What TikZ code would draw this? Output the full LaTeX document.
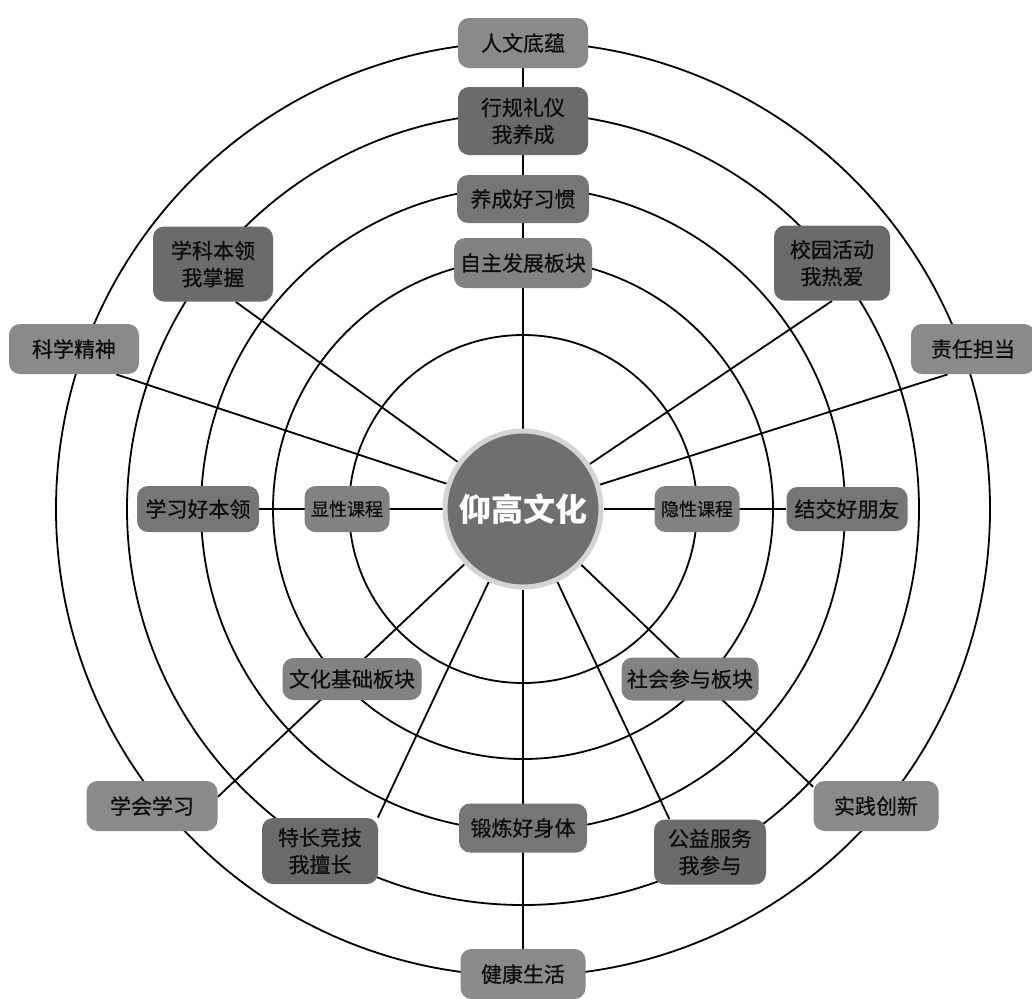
\documentclass[tikz,border=0pt]{standalone}
\usepackage{fontspec}
\setmainfont{Noto Sans CJK SC}
\newfontfamily\tagfont{Noto Sans CJK SC}[FakeBold=0.6]
\usetikzlibrary{backgrounds}
\newcommand{\figunit}{0.5pt}
\definecolor{boxlight}{HTML}{8A8A8A}
\definecolor{boxdark}{HTML}{6B6B6B}
\definecolor{boxmid}{HTML}{767676}
\definecolor{boxblock}{HTML}{828282}
\definecolor{corefill}{HTML}{6F6F6F}
\definecolor{corerim}{HTML}{D4D4D4}
\tikzset{
	tag/.style={rounded corners=5.5pt, inner sep=0pt, align=center, text=black!95,
		font=\tagfont\fontsize{10.5}{13.5}\selectfont},
	outer tag/.style={tag, fill=boxlight},
	dark tag/.style={tag, fill=boxdark},
	mid tag/.style={tag, fill=boxmid},
	block tag/.style={tag, fill=boxblock},
	course tag/.style={tag, fill=boxblock, font=\tagfont\fontsize{9}{11}\selectfont},
	ring/.style={line width=0.9pt},
	spoke/.style={line width=0.9pt}
}

\begin{document}
\begin{tikzpicture}[x=\figunit,y=-\figunit]
	\useasboundingbox (0,0) rectangle (1032,998);

	\node [circle, fill=corefill, draw=corerim, line width=2.5pt, minimum size=78pt,
		text=white, font=\fontsize{16}{16}\selectfont\bfseries] (O) at (523,509) {仰高文化};

	% top column
	\node [outer tag, minimum width=65pt, minimum height=25pt] (hum) at (523,43) {人文底蕴};
	\node [dark tag, minimum width=65pt, minimum height=34pt] (rule) at (523,121) {行规礼仪\\我养成};
	\node [mid tag, minimum width=66pt, minimum height=24pt] (habit) at (523,199) {养成好习惯};
	\node [block tag, minimum width=69pt, minimum height=25pt] (self) at (523,263) {自主发展板块};

	% left side
	\node [dark tag, minimum width=60pt, minimum height=37.5pt] (subj) at (213,264) {学科本领\\我掌握};
	\node [outer tag, minimum width=65pt, minimum height=25pt] (sci) at (74,349) {科学精神};
	\node [mid tag, minimum width=61pt, minimum height=23pt] (learn) at (198,509) {学习好本领};
	\node [course tag, minimum width=42.5pt, minimum height=23pt] (expl) at (347,509) {显性课程};

	% right side
	\node [dark tag, minimum width=58pt, minimum height=37.5pt] (camp) at (832,263) {校园活动\\我热爱};
	\node [outer tag, minimum width=62pt, minimum height=25pt] (resp) at (973,349) {责任担当};
	\node [mid tag, minimum width=60.5pt, minimum height=22pt] (friend) at (847,509) {结交好朋友};
	\node [course tag, minimum width=42.5pt, minimum height=23pt] (impl) at (697,509) {隐性课程};

	% bottom
	\node [block tag, minimum width=69.5pt, minimum height=21pt] (cult) at (352,679) {文化基础板块};
	\node [outer tag, minimum width=65.5pt, minimum height=25pt] (study) at (152,806) {学会学习};
	\node [dark tag, minimum width=58pt, minimum height=33pt] (spec) at (320,851) {特长竞技\\我擅长};
	\node [block tag, minimum width=68.5pt, minimum height=21.5pt] (soc) at (690,679) {社会参与板块};
	\node [mid tag, minimum width=64pt, minimum height=24.5pt] (body) at (523,828) {锻炼好身体};
	\node [dark tag, minimum width=56pt, minimum height=32.5pt] (serv) at (710,852) {公益服务\\我参与};
	\node [outer tag, minimum width=62.5pt, minimum height=25pt] (prac) at (876,806) {实践创新};
	\node [outer tag, minimum width=62.5pt, minimum height=25pt] (life) at (523,974) {健康生活};

	\begin{scope}[on background layer]
		\foreach \r in {87,125,161,198,233.5}
			\draw [ring] (O.center) circle [radius=\r pt];
		\draw [spoke] (O) -- (hum);
		\draw [spoke] (O) -- (life);
		\draw [spoke] (O) -- (learn);
		\draw [spoke] (O) -- (friend);
		\draw [spoke] (O) -- (subj.-59);
		\draw [spoke] (O) -- (sci.-31);
		\draw [spoke] (O) -- (camp.south);
		\draw [spoke] (O) -- (resp.225);
		\draw [spoke] (O) -- (study.8);
		\draw [spoke] (O) -- (spec.30);
		\draw [spoke] (O) -- (serv.141);
		\draw [spoke] (O) -- (prac.163);
	\end{scope}
\end{tikzpicture}
\end{document}
